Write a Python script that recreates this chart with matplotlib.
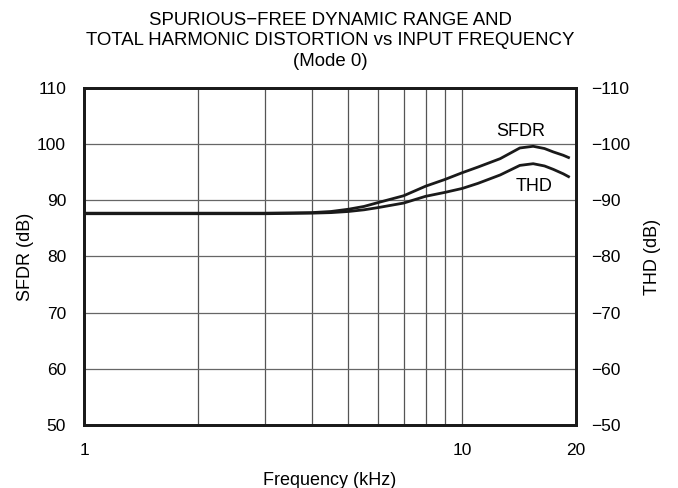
import numpy as np
import matplotlib
matplotlib.use('Agg')
import matplotlib.pyplot as plt
from matplotlib.ticker import FixedLocator, NullFormatter, FixedFormatter

plt.rcParams['font.family'] = ['Liberation Sans', 'DejaVu Sans']

# Input frequency (kHz) and measured values (dB)
freq = [1, 2, 3, 4, 4.5, 5, 5.5, 6, 7, 8, 9, 10, 11, 12.6, 14.2, 15.4, 16.5, 17.4, 18.5, 19.1]
sfdr = [87.7, 87.7, 87.7, 87.8, 88.0, 88.4, 88.9, 89.6, 90.8, 92.5, 93.7, 94.9, 95.9, 97.4, 99.3, 99.6, 99.2, 98.6, 98.0, 97.6]
thd = [87.6, 87.6, 87.6, 87.7, 87.8, 88.0, 88.3, 88.7, 89.5, 90.7, 91.4, 92.1, 93.0, 94.5, 96.2, 96.5, 96.1, 95.5, 94.7, 94.2]

left_ticks = [50, 60, 70, 80, 90, 100, 110]
right_ticks = [-50, -60, -70, -80, -90, -100, -110]
x_major = [1, 10, 20]
x_grid = [2, 3, 4, 5, 6, 7, 8, 9, 10]

fig = plt.figure(figsize=(6.78, 4.88), dpi=100)
ax = fig.add_axes([0.124, 0.129, 0.7257, 0.691])

ax.plot(freq, sfdr, color='#1a1a1a', lw=2.0)
ax.plot(freq, thd, color='#1a1a1a', lw=2.0)

ax.set_xscale('log')
ax.set_xlim(1, 20)
ax.set_ylim(50, 110)
ax.xaxis.set_major_locator(FixedLocator(x_major))
ax.xaxis.set_major_formatter(FixedFormatter([str(v) for v in x_major]))
ax.xaxis.set_minor_locator(FixedLocator(x_grid))
ax.xaxis.set_minor_formatter(NullFormatter())
ax.set_yticks(left_ticks)

for v in x_grid:
    ax.axvline(v, color='#555555', lw=0.9, zorder=0)
for v in left_ticks[1:-1]:
    ax.axhline(v, color='#666666', lw=0.9, zorder=0)

ax.tick_params(axis='both', which='both', length=0, labelsize=12.5)
ax.tick_params(axis='y', pad=13)
ax.tick_params(axis='x', pad=13)
for s in ax.spines.values():
    s.set_linewidth(2.0)
    s.set_color('#1a1a1a')

ax.set_xlabel('Frequency (kHz)', fontsize=13, labelpad=10)
ax.set_ylabel('SFDR (dB)', fontsize=13, labelpad=2)
ax.set_title('SPURIOUS\u2212FREE DYNAMIC RANGE AND\n'
             'TOTAL HARMONIC DISTORTION vs INPUT FREQUENCY\n(Mode 0)',
             fontsize=13.4, linespacing=1.27, pad=16)

ax.text(14.3, 102.3, 'SFDR', fontsize=13, ha='center', va='center')
ax.text(15.5, 92.5, 'THD', fontsize=13, ha='center', va='center')

ax2 = ax.twinx()
ax2.set_ylim(-50, -110)
ax2.set_yticks(right_ticks)
ax2.tick_params(axis='y', length=0, labelsize=12.5, pad=11)
ax2.set_ylabel('THD (dB)', fontsize=13, labelpad=10)
for s in ax2.spines.values():
    s.set_linewidth(2.0)
    s.set_color('#1a1a1a')

fig.savefig('out.png', dpi=100)
